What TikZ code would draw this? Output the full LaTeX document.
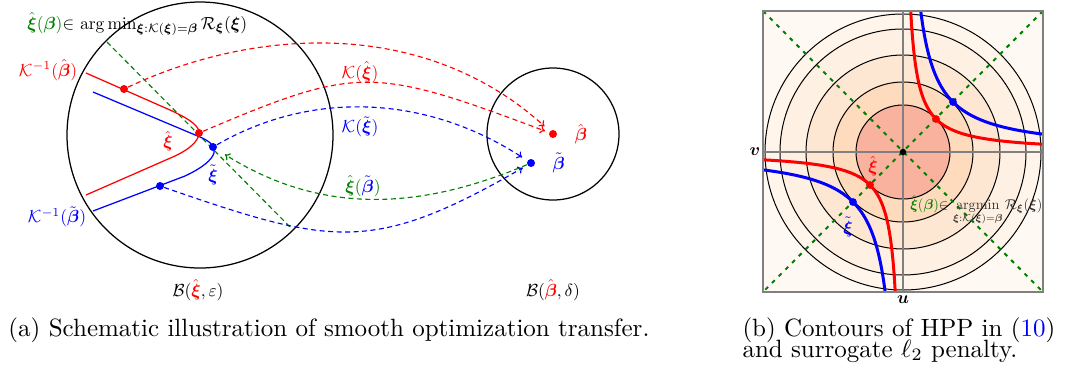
\documentclass[tikz,border=0pt]{standalone}
\usepackage{amsmath,amssymb,amsfonts}
\usepackage{xcolor}
\usepackage{tikz}
\usetikzlibrary{arrows.meta,positioning,calc}

\definecolor{dgreen}{RGB}{0,128,0}
\definecolor{cinner}{RGB}{249,178,158}
\definecolor{cringa}{RGB}{253,219,188}
\definecolor{cringb}{RGB}{254,231,210}
\definecolor{cringc}{RGB}{254,240,226}
\definecolor{cringd}{RGB}{255,245,235}
\definecolor{couter}{RGB}{255,249,243}
\newcommand{\bxi}{\boldsymbol{\xi}}
\newcommand{\bbeta}{\boldsymbol{\beta}}

\begin{document}
\begin{tikzpicture}[
  x=0.4pt, y=-0.4pt,
  font=\normalsize,
  lbl/.style={scale=0.7},
  rlbl/.style={scale=0.57},
  dot/.style={circle, fill, inner sep=0pt, minimum size=3.2pt},
  sdot/.style={circle, fill, inner sep=0pt, minimum size=3.1pt},
  arr/.style={dash pattern=on 2pt off 1.4pt, line width=0.45pt, -{To[length=2pt,width=3.2pt]}},
  ball/.style={line width=0.5pt},
  curve/.style={line width=0.5pt},
  hyp/.style={line width=1.2pt},
  diag/.style={dgreen, line width=0.8pt, dash pattern=on 1.6pt off 2.2pt},
  captxt/.style={anchor=base west, inner sep=0pt}
]
\useasboundingbox (0,0) rectangle (1065,375);

% (a) optimization transfer
\draw[ball] (200,135) circle (133);
\draw[ball] (553,134) circle (66);

\coordinate (gtop) at (107,42);
\coordinate (gbot) at (290,227);
\draw[dgreen, line width=0.45pt, dash pattern=on 2pt off 1.4pt] (gtop) -- (gbot);

\draw[curve, red] (86,73) -- (170,110) .. controls (192,120) and (200,127) .. (199,134)
  .. controls (198,141) and (190,149) .. (175,156) -- (86,195);
\draw[curve, blue] (93,92) -- (200,137) .. controls (210,141) and (216,147) .. (214,153)
  .. controls (212,160) and (202,168) .. (185,176) -- (93,211);

\node[dot, red] (xihatA) at (124,89) {};
\node[dot, red] (xihat) at (199,133) {};
\node[dot, blue] (xitilde) at (213,147) {};
\node[dot, blue] (xitildeB) at (160,186) {};
\node[dot, red] (betahat) at (553,134) {};
\node[dot, blue] (betatilde) at (531,163) {};

\draw[arr, red, shorten >=2.8pt] (xihatA) .. controls (256,27) and (425,18) .. (betahat);
\draw[arr, red, shorten >=1.6pt] (xihat) .. controls (357,66) and (372,66) .. (betahat);
\draw[arr, blue, shorten >=2.4pt] (xitilde) .. controls (312,90) and (426,95) .. (betatilde);
\draw[arr, dgreen, shorten >=3.8pt] (betatilde) .. controls (415,212) and (318,213) .. (xitilde);
\draw[arr, blue, shorten >=2pt] (xitildeB) .. controls (331,245) and (372,255) .. (betatilde);

\node[lbl, anchor=base west, inner sep=0pt] (argminA) at (27,29)
  {\textcolor{dgreen}{$\hat{\bxi}(\bbeta)$}$\in$ $\arg\min_{\bxi:\mathcal{K}(\bxi)=\bbeta}\mathcal{R}_{\bxi}(\bxi)$};
\node[lbl, red] (lKinvhat) at (48,70) {$\mathcal{K}^{-1}(\hat{\bbeta})$};
\node[lbl, blue] (lKinvtil) at (57,217) {$\mathcal{K}^{-1}(\tilde{\bbeta})$};
\node[lbl, red] (lxihat) at (168,141) {$\hat{\bxi}$};
\node[lbl, blue] (lxitil) at (213,175) {$\tilde{\bxi}$};
\node[lbl, red] (lKhat) at (360,72) {$\mathcal{K}(\hat{\bxi})$};
\node[lbl, blue] (lKtil) at (360,127) {$\mathcal{K}(\tilde{\bxi})$};
\node[lbl, dgreen] (lxib) at (363,186) {$\hat{\bxi}(\textcolor{blue}{\tilde{\bbeta}})$};
\node[lbl, red, right=4.5pt of betahat] (lbetahat) {$\hat{\bbeta}$};
\node[lbl, blue, right=4.4pt of betatilde] (lbetatil) {$\tilde{\bbeta}$};
\node[lbl] (lballA) at (198,290) {$\mathcal{B}(\textcolor{red}{\hat{\bxi}},\varepsilon)$};
\node[lbl] (lballB) at (553,290) {$\mathcal{B}(\textcolor{red}{\hat{\bbeta}},\delta)$};

% (b) contours of HPP
\coordinate (sqnw) at (763,11);
\coordinate (sqne) at (1043,11);
\coordinate (sqsw) at (763,292);
\coordinate (sqse) at (1043,292);
\coordinate (axw) at (763,152);
\coordinate (axe) at (1043,152);
\coordinate (axn) at (903,11);
\coordinate (axs) at (903,292);
\begin{scope}
  \clip (sqnw) rectangle (sqse);
  \fill[couter] (sqnw) rectangle (sqse);
  \foreach \r/\c in {138/cringd, 123/cringc, 97/cringb, 70/cringa, 47/cinner}
    \filldraw[fill=\c, draw=black, line width=0.4pt] (903,152) circle (\r);
  \draw[gray, line width=0.6pt] (axw) -- (axe);
  \draw[gray, line width=0.6pt] (axn) -- (axs);
  \draw[diag] (sqnw) -- (sqse);
  \draw[diag] (sqne) -- (sqsw);
  \draw[hyp, blue] plot[variable=\t, domain=-1.15:1.15, samples=60, smooth] ({903+50*exp(\t)}, {152-50*exp(-\t)});
  \draw[hyp, blue] plot[variable=\t, domain=-1.15:1.15, samples=60, smooth] ({903-50*exp(\t)}, {152+50*exp(-\t)});
  \draw[hyp, red] plot[variable=\t, domain=-1.5:1.5, samples=60, smooth] ({903+33*exp(\t)}, {152-33*exp(-\t)});
  \draw[hyp, red] plot[variable=\t, domain=-1.5:1.5, samples=60, smooth] ({903-33*exp(\t)}, {152+33*exp(-\t)});
\end{scope}
\draw[gray, line width=0.5pt] (sqnw) rectangle (sqse);

\node[sdot, red] (hypRa) at (936,119) {};
\node[sdot, red] (hypRb) at (870,185) {};
\node[sdot, blue] (hypBa) at (953,102) {};
\node[sdot, blue] (hypBb) at (853,202) {};
\node[circle, fill=black, inner sep=0pt, minimum size=2.6pt] (origin) at (903,152) {};

\node[lbl] (lv) at (755,152) {$\boldsymbol{v}$};
\node[lbl] (lu) at (903,300) {$\boldsymbol{u}$};
\node[lbl, red] (rxihat) at (873,166) {$\hat{\bxi}$};
\node[lbl, blue] (rxitil) at (848,227) {$\tilde{\bxi}$};
\node[rlbl, anchor=base west, inner sep=0pt, text=black!80] (argminB) at (910,209)
  {\textcolor{dgreen}{$\hat{\bxi}(\bbeta)$}$\in$ $\mathop{\mathrm{argmin}}\limits_{\bxi:\mathcal{K}(\bxi)=\bbeta}\mathcal{R}_{\bxi}(\bxi)$};

% captions
\node[captxt] (capA) at (8,336) {(a) Schematic illustration of smooth optimization transfer.};
\node[captxt] (capB) at (742,336) {(b) Contours of HPP in (\textcolor{blue}{10})};
\node[captxt] (capC) at (742,357) {and surrogate $\ell_2$ penalty.};
\end{tikzpicture}
\end{document}
